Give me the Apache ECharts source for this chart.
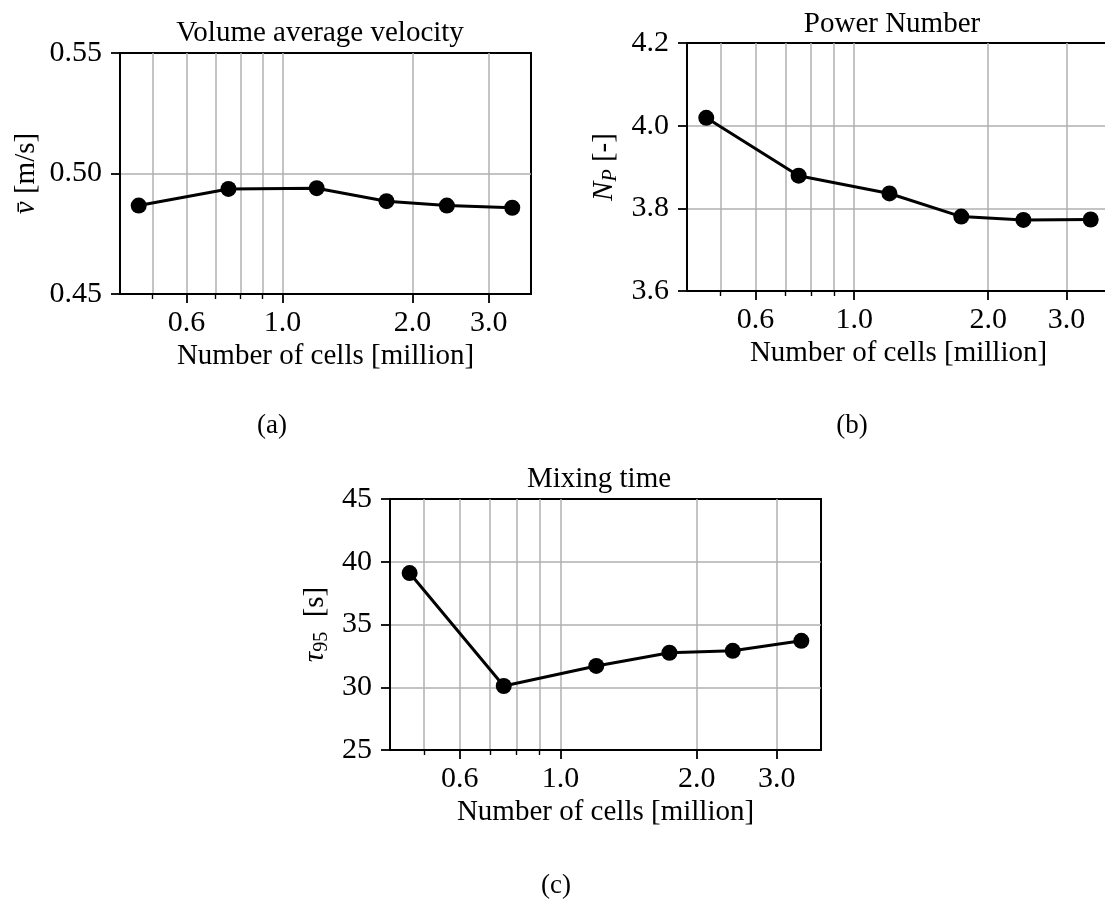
<!DOCTYPE html>
<html>
<head>
<meta charset="utf-8">
<script src="https://cdn.jsdelivr.net/npm/echarts@6/dist/echarts.min.js"></script>
<style>
  html, body { margin: 0; padding: 0; background: #fff; }
  #chart { width: 1105px; height: 902px; }
</style>
</head>
<body>
<div id="chart"></div>
<script>
// ---- data ----
const cells = [0.465, 0.75, 1.2, 1.74, 2.4, 3.4];            // number of cells [million]
const velocity = [0.4867, 0.4936, 0.4939, 0.4885, 0.4867, 0.4858]; // m/s
const powerNumber = [4.019, 3.879, 3.836, 3.780, 3.772, 3.773];
const mixingTime = [39.1, 30.1, 31.7, 32.75, 32.9, 33.7];   // s
const xMajorTicks = [0.6, 1.0, 2.0, 3.0];
const xMinorTicks = [0.5, 0.7, 0.8, 0.9];
const xRange = [0.4209, 3.757];
const titles = ['Volume average velocity', 'Power Number', 'Mixing time'];
const captions = ['(a)', '(b)', '(c)'];
const yRanges = [[0.45, 0.55, 0.05], [3.6, 4.2, 0.2], [25, 45, 5]];
const yDecimals = [2, 1, 0];

const FONT = 'Liberation Serif';
const GRID_COLOR = '#b0b0b0';

const grids = [
  { left: 120, top: 53, width: 411, height: 241 },
  { left: 687, top: 43, width: 423, height: 248 },
  { left: 390, top: 499, width: 431, height: 251 }
];
const yNames = [
  '{i|v\u0304} [m/s]',
  '{i|N}{subi|P} [-]',
  '{i|\u03c4}{sub|95}  [s]'
];
const yNameGaps = [79, 66, 58];
const titlePos = [[320, 33], [892, 24], [599, 479]];
const captionPos = [[272, 426], [852, 426], [556, 886]];

const richStyles = {
  i: { fontFamily: FONT, fontStyle: 'italic', fontSize: 29, color: '#000' },
  sub: { fontFamily: FONT, fontSize: 20, color: '#000', padding: [14, 0, 0, 0] },
  subi: { fontFamily: FONT, fontStyle: 'italic', fontSize: 20, color: '#000', padding: [14, 0, 0, 0] }
};

const xAxes = [];
const yAxes = [];
const series = [];
const seriesData = [velocity, powerNumber, mixingTime];

grids.forEach((g, k) => {
  xAxes.push({
    type: 'log', gridIndex: k, min: xRange[0], max: xRange[1], position: 'bottom',
    axisLine: { show: true, onZero: false, lineStyle: { color: '#000', width: 2 } },
    axisTick: { show: true, customValues: xMajorTicks, length: 9, lineStyle: { color: '#000', width: 1.8 } },
    minorTick: { show: false },
    axisLabel: {
      show: true, customValues: xMajorTicks, margin: 14,
      formatter: v => Number(v).toFixed(1),
      fontFamily: FONT, fontSize: 30, color: '#000'
    },
    splitLine: { show: true, lineStyle: { color: GRID_COLOR, width: 1.5 } },
    name: 'Number of cells [million]', nameLocation: 'middle', nameGap: 48,
    nameMoveOverlap: false,
    nameTextStyle: { fontFamily: FONT, fontSize: 29, color: '#000' }
  });
  xAxes.push({
    type: 'log', gridIndex: k, min: xRange[0], max: xRange[1], position: 'bottom',
    axisLine: { show: false, onZero: false },
    axisTick: { show: true, customValues: xMinorTicks, length: 5, lineStyle: { color: '#000', width: 1.4 } },
    minorTick: { show: false },
    axisLabel: { show: false },
    splitLine: { show: true, lineStyle: { color: GRID_COLOR, width: 1.5 } }
  });
  const yr = yRanges[k];
  yAxes.push({
    type: 'value', gridIndex: k, min: yr[0], max: yr[1], interval: yr[2], position: 'left',
    axisLine: { show: true, onZero: false, lineStyle: { color: '#000', width: 2 } },
    axisTick: { show: true, length: 9, lineStyle: { color: '#000', width: 1.8 } },
    axisLabel: {
      margin: 18, formatter: v => Number(v).toFixed(yDecimals[k]),
      fontFamily: FONT, fontSize: 30, color: '#000'
    },
    splitLine: { show: true, showMinLine: false, showMaxLine: false, lineStyle: { color: GRID_COLOR, width: 1.5 } },
    name: yNames[k], nameLocation: 'middle', nameRotate: 90, nameGap: yNameGaps[k],
    nameMoveOverlap: false,
    nameTextStyle: { fontFamily: FONT, fontSize: 29, color: '#000', rich: richStyles }
  });
  series.push({
    type: 'line', xAxisIndex: 2 * k, yAxisIndex: k,
    data: cells.map((x, i) => [x, seriesData[k][i]]),
    symbol: 'circle', symbolSize: 16, showSymbol: true,
    itemStyle: { color: '#000' },
    lineStyle: { color: '#000', width: 3 },
    z: 10, animation: false, silent: true
  });
});

const graphics = [];
titles.forEach((t, k) => {
  graphics.push({ type: 'text', x: titlePos[k][0], y: titlePos[k][1], silent: true,
    style: { text: t, align: 'center', verticalAlign: 'middle', fontFamily: FONT, fontSize: 29, fill: '#000' } });
});
captions.forEach((t, k) => {
  graphics.push({ type: 'text', x: captionPos[k][0], y: captionPos[k][1], silent: true,
    style: { text: t, align: 'center', verticalAlign: 'middle', fontFamily: FONT, fontSize: 27, fill: '#000' } });
});

const chart = echarts.init(document.getElementById('chart'), null, { renderer: 'canvas' });
chart.setOption({
  animation: false,
  backgroundColor: '#fff',
  grid: grids.map(g => Object.assign({ show: true, borderColor: '#000', borderWidth: 2, backgroundColor: 'transparent', containLabel: false, outerBoundsMode: 'none' }, g)),
  xAxis: xAxes,
  yAxis: yAxes,
  series: series,
  graphic: graphics
});
</script>
</body>
</html>
